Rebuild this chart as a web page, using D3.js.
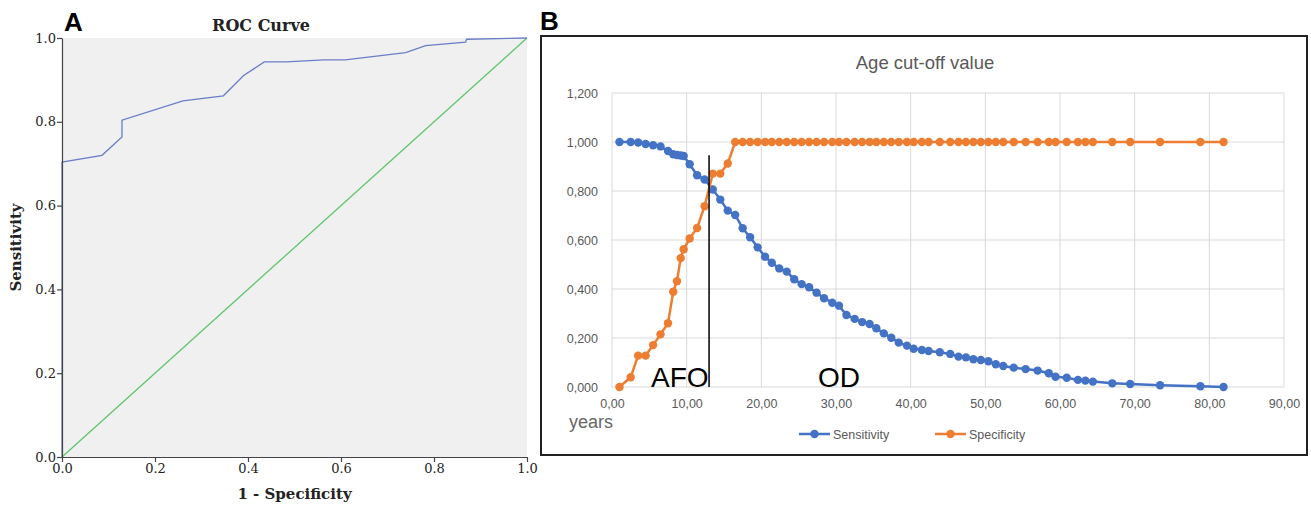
<!DOCTYPE html>
<html>
<head>
<meta charset="utf-8">
<script src="https://cdn.jsdelivr.net/npm/d3@7"></script>
<style>
  html, body { margin: 0; padding: 0; background: #fff; }
  svg { display: block; }
</style>
</head>
<body>
<svg id="chart" width="1311" height="507"></svg>
<script>
// ---------- Panel A data (ROC curve) ----------
const rocFpr = [0, 0, 0.086, 0.129, 0.129, 0.260, 0.347, 0.390, 0.435, 0.483, 0.563, 0.609, 0.739, 0.782, 0.868, 0.870, 1.0];
const rocTpr = [0, 0.704, 0.720, 0.764, 0.804, 0.850, 0.862, 0.910, 0.943, 0.943, 0.948, 0.948, 0.965, 0.982, 0.990, 0.997, 1.0];
const rocTicks = [0, 0.2, 0.4, 0.6, 0.8, 1.0];

// ---------- Panel B data (Age cut-off) ----------
const ages = [1, 2.5, 3.5, 4.5, 5.5, 6.5, 7.5, 8.2, 8.7, 9.2, 9.6, 10.4, 11.4, 12.4, 13.5, 14.5,
  15.5, 16.5, 17.5, 18.5, 19.5, 20.5, 21.4, 22.4, 23.4, 24.4, 25.4, 26.4, 27.4, 28.4, 29.5, 30.4,
  31.4, 32.5, 33.5, 34.5, 35.4, 36.4, 37.4, 38.4, 39.5, 40.4, 41.5, 42.4, 43.9, 45.3, 46.4, 47.4,
  48.4, 49.4, 50.4, 51.4, 52.4, 53.8, 55.4, 57.0, 58.5, 59.4, 60.9, 62.4, 63.4, 64.4, 67.0, 69.4,
  73.4, 78.8, 81.9];
const sensitivity = [1.000, 1.000, 0.998, 0.992, 0.987, 0.982, 0.963, 0.950, 0.947, 0.945, 0.943, 0.909, 0.864, 0.847, 0.806, 0.765,
  0.720, 0.702, 0.648, 0.611, 0.570, 0.532, 0.507, 0.484, 0.471, 0.440, 0.420, 0.407, 0.385, 0.362, 0.344, 0.332,
  0.294, 0.278, 0.265, 0.257, 0.240, 0.219, 0.201, 0.181, 0.169, 0.156, 0.151, 0.147, 0.142, 0.135, 0.124, 0.121,
  0.113, 0.110, 0.105, 0.093, 0.086, 0.079, 0.073, 0.067, 0.056, 0.042, 0.038, 0.029, 0.026, 0.022, 0.015, 0.012,
  0.007, 0.003, 0.000];
const specificity = [0.000, 0.040, 0.128, 0.128, 0.171, 0.215, 0.260, 0.389, 0.432, 0.526, 0.562, 0.606, 0.649, 0.738, 0.871, 0.871,
  0.912, 1, 1, 1, 1, 1, 1, 1, 1, 1, 1, 1, 1, 1, 1, 1,
  1, 1, 1, 1, 1, 1, 1, 1, 1, 1, 1, 1, 1, 1, 1, 1,
  1, 1, 1, 1, 1, 1, 1, 1, 1, 1, 1, 1, 1, 1, 1, 1,
  1, 1, 1];
const ageTicks = [0, 10, 20, 30, 40, 50, 60, 70, 80, 90];
const valueTicks = [0, 0.2, 0.4, 0.6, 0.8, 1.0, 1.2];
const cutoffAge = 13.0;
const cutoffTop = 0.946;
const seriesNames = ["Sensitivity", "Specificity"];
const seriesColors = ["#4472C4", "#ED7D31"];

const svg = d3.select("#chart");

// ================= Panel A =================
(function () {
  const x = d3.scaleLinear().domain([0, 1]).range([62, 527]);
  const y = d3.scaleLinear().domain([0, 1]).range([457, 38]);
  const g = svg.append("g");
  const serif = "'DejaVu Serif', 'Liberation Serif', serif";

  g.append("rect").attr("x", x(0)).attr("y", y(1)).attr("width", x(1) - x(0)).attr("height", y(0) - y(1))
    .attr("fill", "#f0f0f0");

  // diagonal reference
  g.append("line").attr("x1", x(0)).attr("y1", y(0)).attr("x2", x(1)).attr("y2", y(1))
    .attr("stroke", "#5fc46c").attr("stroke-width", 1.3);

  const rocPts = rocFpr.map((f, i) => [f, rocTpr[i]]);
  g.append("path").datum(rocPts)
    .attr("d", d3.line().x(d => x(d[0])).y(d => y(d[1])))
    .attr("fill", "none").attr("stroke", "#6a7ec8").attr("stroke-width", 1.3);

  const xAxis = g.append("g").attr("transform", `translate(0,${y(0)})`)
    .call(d3.axisBottom(x).tickValues(rocTicks).tickFormat(d3.format(".1f")).tickSizeInner(5).tickSizeOuter(0));
  const yAxis = g.append("g").attr("transform", `translate(${x(0)},0)`)
    .call(d3.axisLeft(y).tickValues(rocTicks).tickFormat(d3.format(".1f")).tickSizeInner(5).tickSizeOuter(0));
  [xAxis, yAxis].forEach(a => {
    a.select(".domain").attr("stroke", "#444").attr("stroke-width", 1.2);
    a.selectAll(".tick line").attr("stroke", "#444").attr("stroke-width", 1.2);
    a.selectAll(".tick text").attr("font-family", serif).attr("font-size", 13).attr("fill", "#222");
  });
  xAxis.selectAll(".tick text").attr("dy", "0.9em").attr("y", 4);
  yAxis.selectAll(".tick text").attr("x", -6);

  g.append("text").attr("x", 261).attr("y", 31).attr("text-anchor", "middle")
    .attr("font-family", serif).attr("font-weight", "bold").attr("font-size", 16).attr("fill", "#222")
    .text("ROC Curve");
  g.append("text").attr("x", (x(0) + x(1)) / 2).attr("y", 499).attr("text-anchor", "middle")
    .attr("font-family", serif).attr("font-weight", "bold").attr("font-size", 15).attr("fill", "#222")
    .text("1 - Specificity");
  g.append("text").attr("transform", `translate(21,${(y(0) + y(1)) / 2}) rotate(-90)`).attr("text-anchor", "middle")
    .attr("font-family", serif).attr("font-weight", "bold").attr("font-size", 15).attr("fill", "#222")
    .text("Sensitivity");

  g.append("text").attr("x", 64).attr("y", 31)
    .attr("font-family", "'Liberation Sans', Arial, sans-serif").attr("font-weight", "bold").attr("font-size", 26)
    .attr("fill", "#000").text("A");
})();

// ================= Panel B =================
(function () {
  const sans = "'Liberation Sans', Arial, sans-serif";
  const g = svg.append("g");
  g.append("rect").attr("x", 541).attr("y", 36).attr("width", 766).attr("height", 419)
    .attr("fill", "#fff").attr("stroke", "#222").attr("stroke-width", 2);

  g.append("text").attr("x", 540).attr("y", 30)
    .attr("font-family", sans).attr("font-weight", "bold").attr("font-size", 26).attr("fill", "#000").text("B");

  const x = d3.scaleLinear().domain([0, 90]).range([612, 1284]);
  const y = d3.scaleLinear().domain([0, 1.2]).range([387, 93]);

  // gridlines
  g.append("g").selectAll("line.h").data(valueTicks).join("line")
    .attr("x1", x(0)).attr("x2", x(90)).attr("y1", d => y(d)).attr("y2", d => y(d))
    .attr("stroke", "#d9d9d9").attr("stroke-width", 1);
  g.append("g").selectAll("line.v").data(ageTicks).join("line")
    .attr("x1", d => x(d)).attr("x2", d => x(d)).attr("y1", y(0)).attr("y2", y(1.2))
    .attr("stroke", "#d9d9d9").attr("stroke-width", 1);

  const fmtY = d => d3.format(".3f")(d).replace(".", ",");
  const fmtX = d => d3.format(".2f")(d).replace(".", ",");

  const yAxis = g.append("g").attr("transform", `translate(${x(0)},0)`)
    .call(d3.axisLeft(y).tickValues(valueTicks).tickFormat(fmtY).tickSize(0));
  yAxis.select(".domain").remove();
  yAxis.selectAll(".tick text").attr("x", -14).attr("font-family", sans).attr("font-size", 12.5).attr("fill", "#595959");

  const xAxis = g.append("g").attr("transform", `translate(0,${y(0)})`)
    .call(d3.axisBottom(x).tickValues(ageTicks).tickFormat(fmtX).tickSize(0));
  xAxis.select(".domain").remove();
  xAxis.selectAll(".tick text").attr("y", 12).attr("font-family", sans).attr("font-size", 12.5).attr("fill", "#595959");

  // title
  g.append("text").attr("x", 925).attr("y", 69).attr("text-anchor", "middle")
    .attr("font-family", sans).attr("font-size", 18.5).attr("fill", "#595959").text("Age cut-off value");

  // series
  const series = [sensitivity, specificity];
  const line = d3.line().x(d => x(d[0])).y(d => y(d[1]));
  series.forEach((vals, si) => {
    const pts = ages.map((a, i) => [a, vals[i]]);
    const sg = g.append("g");
    sg.append("path").datum(pts).attr("d", line).attr("fill", "none")
      .attr("stroke", seriesColors[si]).attr("stroke-width", 2.5);
    sg.selectAll("circle").data(pts).join("circle")
      .attr("cx", d => x(d[0])).attr("cy", d => y(d[1])).attr("r", 4.2).attr("fill", seriesColors[si]);
  });

  // cut-off line and annotations
  g.append("line").attr("x1", x(cutoffAge)).attr("x2", x(cutoffAge)).attr("y1", y(0)).attr("y2", y(cutoffTop))
    .attr("stroke", "#000").attr("stroke-width", 1.5);
  g.append("text").attr("x", 651).attr("y", 387).attr("font-family", sans).attr("font-size", 28)
    .attr("fill", "#000").text("AFO");
  g.append("text").attr("x", 818).attr("y", 387).attr("font-family", sans).attr("font-size", 28)
    .attr("fill", "#000").text("OD");
  g.append("text").attr("x", 569).attr("y", 428).attr("font-family", sans).attr("font-size", 18)
    .attr("fill", "#666").text("years");

  // legend
  const legX = [799, 935];
  seriesNames.forEach((name, i) => {
    const lg = g.append("g").attr("transform", `translate(${legX[i]},434)`);
    lg.append("line").attr("x1", 0).attr("x2", 31).attr("y1", 0).attr("y2", 0)
      .attr("stroke", seriesColors[i]).attr("stroke-width", 2.5);
    lg.append("circle").attr("cx", 15.5).attr("cy", 0).attr("r", 4.2).attr("fill", seriesColors[i]);
    lg.append("text").attr("x", 34).attr("y", 4.5).attr("font-family", sans).attr("font-size", 12.5)
      .attr("fill", "#595959").text(name);
  });
})();
</script>
</body>
</html>
